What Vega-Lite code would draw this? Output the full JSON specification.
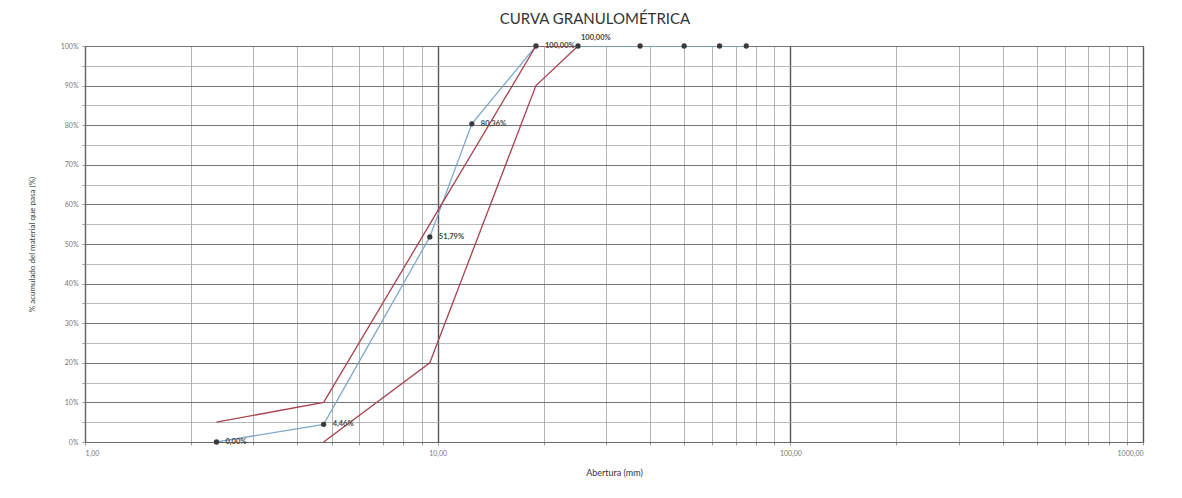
{
  "$schema": "https://vega.github.io/schema/vega-lite/v6.json",
  "autosize": {"type": "none"},
  "width": 1058,
  "height": 396,
  "padding": {"left": 85, "top": 46, "right": 39, "bottom": 56},
  "background": "white",
  "title": {"text": "CURVA GRANULOMÉTRICA", "fontSize": 15, "font": "Lato", "fontWeight": "normal", "color": "#333", "offset": 7, "dx": -19},
  "config": {"view": {"stroke": "#666", "strokeWidth": 1}},
  "datasets": {
    "curves": [
      {"serie": "Muestra", "abertura": 2.36, "pasa": 0.0, "etiqueta": "0,00%"},
      {"serie": "Muestra", "abertura": 4.75, "pasa": 0.0446, "etiqueta": "4,46%"},
      {"serie": "Muestra", "abertura": 9.5, "pasa": 0.5179, "etiqueta": "51,79%"},
      {"serie": "Muestra", "abertura": 12.5, "pasa": 0.8036, "etiqueta": "80,36%"},
      {"serie": "Muestra", "abertura": 19.0, "pasa": 1.0, "etiqueta": "100,00%"},
      {"serie": "Muestra", "abertura": 25.0, "pasa": 1.0, "etiqueta": "100,00%"},
      {"serie": "Muestra", "abertura": 37.5, "pasa": 1.0, "etiqueta": ""},
      {"serie": "Muestra", "abertura": 50.0, "pasa": 1.0, "etiqueta": ""},
      {"serie": "Muestra", "abertura": 63.0, "pasa": 1.0, "etiqueta": ""},
      {"serie": "Muestra", "abertura": 75.0, "pasa": 1.0, "etiqueta": ""},
      {"serie": "Límite superior", "abertura": 2.36, "pasa": 0.05, "etiqueta": ""},
      {"serie": "Límite superior", "abertura": 4.75, "pasa": 0.10, "etiqueta": ""},
      {"serie": "Límite superior", "abertura": 9.5, "pasa": 0.55, "etiqueta": ""},
      {"serie": "Límite superior", "abertura": 19.0, "pasa": 1.0, "etiqueta": ""},
      {"serie": "Límite superior", "abertura": 25.0, "pasa": 1.0, "etiqueta": ""},
      {"serie": "Límite inferior", "abertura": 4.75, "pasa": 0.0, "etiqueta": ""},
      {"serie": "Límite inferior", "abertura": 9.5, "pasa": 0.20, "etiqueta": ""},
      {"serie": "Límite inferior", "abertura": 19.0, "pasa": 0.90, "etiqueta": ""},
      {"serie": "Límite inferior", "abertura": 25.0, "pasa": 1.0, "etiqueta": ""}
    ]
  },
  "data": {"name": "curves"},
  "encoding": {
    "x": {
      "field": "abertura", "type": "quantitative",
      "scale": {"type": "log", "domain": [1, 1000], "nice": false},
      "axis": {
        "title": "Abertura (mm)",
        "titleFont": "Lato", "titleFontSize": 9, "titleFontWeight": "normal", "titleColor": "#333", "titlePadding": 12,
        "values": [1,2,3,4,5,6,7,8,9,10,20,30,40,50,60,70,80,90,100,200,300,400,500,600,700,800,900,1000],
        "labelExpr": "indexof([1,10,100,1000], datum.value) >= 0 ? replace(format(datum.value, '.2f'), '.', ',') : ''",
        "labelFont": "Lato", "labelFontSize": 7, "labelColor": "#777", "labelPadding": 4,
        "grid": true,
        "gridColor": {"condition": {"test": "indexof([1,10,100,1000], datum.value) >= 0", "value": "#555"}, "value": "#a0a0a0"},
        "gridWidth": {"condition": {"test": "indexof([1,10,100,1000], datum.value) >= 0", "value": 1.4}, "value": 0.8},
        "tickSize": 3, "tickColor": "#999", "domainColor": "#666"
      }
    },
    "y": {
      "field": "pasa", "type": "quantitative",
      "scale": {"domain": [0, 1], "nice": false},
      "axis": {
        "title": "% acumulado del material que pasa (%)",
        "titleFont": "Lato", "titleFontSize": 8, "titleFontWeight": "normal", "titleColor": "#444", "titlePadding": 24,
        "values": [0,0.05,0.1,0.15,0.2,0.25,0.3,0.35,0.4,0.45,0.5,0.55,0.6,0.65,0.7,0.75,0.8,0.85,0.9,0.95,1],
        "labelExpr": "round(datum.value*100) % 10 == 0 ? format(datum.value, '.0%') : ''",
        "labelFont": "Lato", "labelFontSize": 7, "labelColor": "#777", "labelPadding": 4,
        "grid": true,
        "gridColor": {"condition": {"test": "round(datum.value*100) % 10 == 0", "value": "#777"}, "value": "#a8a8a8"},
        "gridWidth": {"condition": {"test": "round(datum.value*100) % 10 == 0", "value": 1.1}, "value": 0.8},
        "tickSize": 3, "tickColor": "#999", "domainColor": "#666"
      }
    }
  },
  "layer": [
    {
      "mark": {"type": "line", "strokeWidth": 1.3, "clip": true},
      "encoding": {
        "color": {"field": "serie", "type": "nominal", "legend": null,
          "scale": {"domain": ["Muestra", "Límite superior", "Límite inferior"], "range": ["#7fa8cc", "#a8424e", "#a8424e"]}},
        "detail": {"field": "serie"}
      }
    },
    {
      "transform": [{"filter": "datum.serie == 'Muestra'"}],
      "mark": {"type": "point", "filled": true, "size": 28, "color": "#3a3a3a", "opacity": 1}
    },
    {
      "transform": [{"filter": "datum.serie == 'Muestra' && datum.abertura != 25"}],
      "mark": {"type": "text", "align": "left", "baseline": "middle", "dx": 9, "fontSize": 7.5, "font": "Lato", "fontWeight": "bold", "color": "#444"},
      "encoding": {"text": {"field": "etiqueta"}}
    },
    {
      "transform": [{"filter": "datum.serie == 'Muestra' && datum.abertura == 25"}],
      "mark": {"type": "text", "align": "left", "baseline": "middle", "dx": 3, "dy": -8, "fontSize": 7.5, "font": "Lato", "fontWeight": "bold", "color": "#444"},
      "encoding": {"text": {"field": "etiqueta"}}
    }
  ]
}
